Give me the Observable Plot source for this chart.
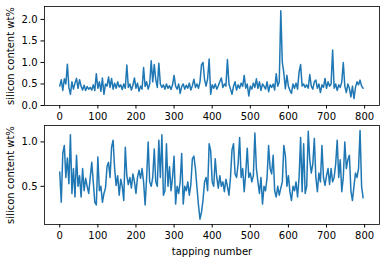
<!DOCTYPE html>
<html><head><meta charset="utf-8">
<script src="https://cdn.jsdelivr.net/npm/d3@7"></script>
<script src="https://cdn.jsdelivr.net/npm/@observablehq/plot@0.6"></script>
<style>
body{margin:0;background:#fff;}
#chart{position:relative;width:386px;height:262px;font-family:"DejaVu Sans",sans-serif;}
#chart > svg{position:absolute;left:0;}
</style></head><body><div id="chart"></div>
<script>
// tapping number = index * step
const step = 4;
const topValues = [
  0.45,0.6,0.35,0.62,0.5,0.96,0.42,0.26,0.55,0.38,
  0.52,0.63,0.4,0.6,0.45,0.36,0.47,0.35,0.44,0.38,
  0.42,0.36,0.48,0.35,0.74,0.4,0.55,0.33,0.64,0.26,
  0.5,0.45,0.66,0.42,0.63,0.38,0.52,0.4,0.55,0.43,
  0.48,0.37,0.5,0.4,0.94,0.42,0.5,0.36,0.47,0.64,
  0.4,0.52,0.33,0.45,0.38,0.88,0.44,0.55,0.38,0.5,
  1.04,0.55,0.95,0.6,0.42,0.98,0.5,0.42,0.48,0.38,
  0.5,0.4,0.46,0.37,0.48,0.7,0.45,0.38,0.5,0.28,
  0.44,0.5,0.38,0.47,0.4,0.52,0.36,0.46,0.61,0.42,
  0.5,0.4,0.55,0.95,1.0,0.6,0.45,0.62,1.08,0.26,
  0.48,0.4,0.5,0.38,0.46,0.55,0.64,0.42,0.5,0.45,
  1.07,0.5,0.38,0.26,0.45,0.55,0.36,0.48,0.4,0.52,
  0.44,0.7,0.4,0.5,0.22,0.45,0.38,0.52,0.42,0.62,
  0.4,0.55,0.35,0.5,0.45,0.38,0.55,0.32,0.48,0.42,
  0.5,0.36,0.74,0.45,0.55,2.2,1.0,0.75,0.39,0.7,
  0.45,0.35,0.28,0.5,0.4,0.52,0.38,0.78,0.95,0.45,
  0.5,0.42,0.48,0.4,0.72,0.45,0.38,0.55,0.59,0.4,
  0.5,0.3,0.48,0.42,0.63,0.4,0.55,0.45,0.5,1.29,
  0.4,0.5,0.35,0.48,0.42,0.55,1.0,0.45,0.3,0.5,
  0.4,0.2,0.45,0.16,0.42,0.55,0.48,0.59,0.45,0.4
];
const bottomValues = [
  0.66,0.32,0.87,0.96,0.6,0.82,0.53,1.08,0.42,0.7,
  0.38,0.85,0.5,0.62,0.38,0.7,0.45,0.59,0.5,0.42,
  0.6,0.77,0.55,0.32,0.29,0.83,0.45,0.5,0.32,0.42,
  0.48,0.72,0.77,0.6,0.94,1.02,0.7,0.51,0.62,0.4,
  0.58,0.5,0.34,0.94,0.62,0.52,0.6,0.48,0.64,0.55,
  0.42,0.6,0.68,0.59,0.7,0.55,0.29,0.6,1.0,0.55,
  0.5,0.6,0.92,0.55,0.5,1.02,0.6,1.08,0.4,0.45,
  0.98,0.5,0.72,0.45,0.6,0.84,0.3,0.5,0.42,0.55,
  0.87,0.3,0.5,0.45,0.55,0.4,0.52,0.81,0.84,0.7,
  0.49,0.29,0.13,0.21,0.35,0.55,0.6,0.45,0.98,0.9,
  0.55,0.5,0.81,0.6,0.48,0.62,0.5,0.55,0.44,0.58,
  0.5,0.4,0.6,0.91,0.98,0.64,0.6,0.75,1.05,0.6,
  0.7,0.44,0.65,0.93,0.6,0.65,0.55,0.62,1.1,0.7,
  0.55,0.42,0.6,0.3,0.5,0.45,0.6,0.96,0.7,0.64,
  0.85,0.45,0.38,0.5,0.4,0.48,0.55,0.96,0.85,0.5,
  0.62,0.44,0.34,0.5,0.45,0.55,0.38,0.6,1.05,0.44,
  0.98,0.42,0.5,1.12,0.8,0.65,0.75,1.04,0.6,0.44,
  0.65,0.55,0.96,0.6,0.51,0.62,0.7,0.52,0.7,0.55,
  0.6,0.75,1.02,0.6,0.8,0.44,0.6,1.0,0.7,0.8,
  0.85,0.45,0.34,0.5,0.65,0.6,0.7,1.13,0.5,0.37
];
const xTicks = [0,100,200,300,400,500,600,700,800];
const topYTicks = [0,0.5,1.0,1.5,2.0];
const bottomYTicks = [0.5,1.0];
const xDomain = [-40, 839];
const topYDomain = [0, 2.3];
const bottomYDomain = [0.07, 1.185];
const yLabel = "silicon content wt%";
const xLabel = "tapping number";
const lineColor = "#1f77b4";

function panel(values, yDomain, yTicks, o) {
  const data = values.map((v, i) => ({tap: i * step, si: v}));
  return Plot.plot({
    width: 386, height: o.height,
    marginLeft: 44, marginRight: 7, marginTop: o.mt, marginBottom: o.mb,
    style: {fontFamily: "DejaVu Sans", fontSize: "10px", color: "black", background: "white", overflow: "visible"},
    x: {domain: xDomain},
    y: {domain: yDomain},
    marks: [
      Plot.line(data, {x: "tap", y: "si", stroke: lineColor, strokeWidth: 1.5}),
      Plot.frame({stroke: "black", strokeWidth: 0.8}),
      Plot.axisX({ticks: xTicks, tickSize: 3.5, tickPadding: 3.5, tickFormat: d3.format("d"),
        label: o.xLabel, labelAnchor: "center", labelArrow: "none", labelOffset: 30}),
      Plot.axisY({ticks: yTicks, tickSize: 3.5, tickPadding: 3.5, tickFormat: d3.format(".1f"),
        label: yLabel, labelAnchor: "center", labelArrow: "none", labelOffset: 38})
    ]
  });
}

const chart = document.getElementById("chart");
const top1 = panel(topValues, topYDomain, topYTicks, {height: 120, mt: 6, mb: 15, xLabel: null});
top1.style.top = "0px";
const bot = panel(bottomValues, bottomYDomain, bottomYTicks, {height: 142, mt: 5, mb: 38, xLabel: xLabel});
bot.style.top = "120px";
chart.appendChild(top1);
chart.appendChild(bot);
</script>
</body></html>
